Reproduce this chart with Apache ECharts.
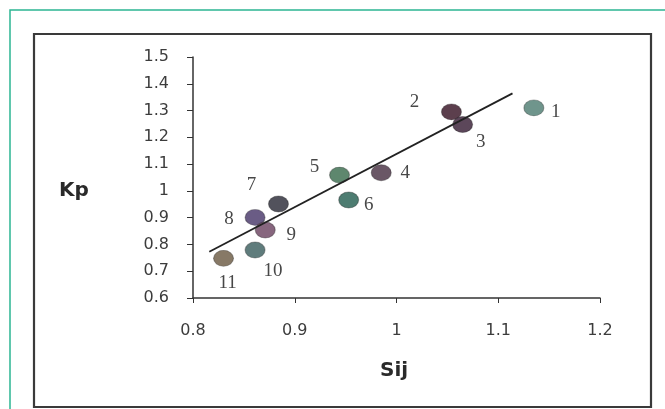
<!DOCTYPE html>
<html>
<head>
<meta charset="utf-8">
<script src="https://cdn.jsdelivr.net/npm/echarts@6/dist/echarts.min.js"></script>
<style>
html,body{margin:0;padding:0;background:#fff;}
#chart{width:665px;height:409px;}
</style>
</head>
<body>
<div id="chart"></div>
<script>
// Data
var pointNames = ['1','2','3','4','5','6','7','8','9','10','11'];
var sijValues = [1.135, 1.054, 1.065, 0.985, 0.944, 0.953, 0.884, 0.861, 0.871, 0.861, 0.830];
var kpValues  = [1.310, 1.295, 1.248, 1.068, 1.059, 0.966, 0.951, 0.901, 0.854, 0.779, 0.748];
var trendSij = [0.816, 1.114];
var trendKp  = [0.773, 1.364];
var xTicks = [0.8, 0.9, 1, 1.1, 1.2];
var yTicks = [0.6, 0.7, 0.8, 0.9, 1, 1.1, 1.2, 1.3, 1.4, 1.5];

// Styling (not data)
var pointColors = ['#5f8a80','#4a2a3a','#4a3348','#5a4555','#4d7a5e','#3a6e62','#3f3f4a','#5a4a78','#7a5570','#4e6e6e','#7a6a55'];
var labelOffsets = [[22,4],[-37,-10],[18,18],[24,0],[-25,-8],[20,5],[-27,-19],[-26,2],[26,5],[18,21],[4,25]];

var chart = echarts.init(document.getElementById('chart'));
var scatterData = sijValues.map(function(x, i){
  return {
    value: [x, kpValues[i]],
    name: pointNames[i],
    itemStyle: {color: pointColors[i]},
    label: {offset: labelOffsets[i]}
  };
});
var trendData = trendSij.map(function(x, i){ return [x, trendKp[i]]; });

var tickFont = {fontFamily: 'DejaVu Sans', fontSize: 16, color: '#3c3c3c'};

chart.setOption({
  animation: false,
  backgroundColor: '#ffffff',
  graphic: [
    {type:'rect', shape:{x:10, y:10, width:670, height:420}, style:{fill:'none', stroke:'#2db593', lineWidth:1.5}},
    {type:'rect', shape:{x:34, y:34, width:617, height:373}, style:{fill:'none', stroke:'#3a3a3a', lineWidth:2.2}},
    {type:'text', left: 59, top: 181, style:{text:'Kp', font:'bold 20px "DejaVu Sans"', fill:'#2a2a2a'}},
    {type:'text', left: 380, top: 361, style:{text:'Sij', font:'bold 20px "DejaVu Sans"', fill:'#2a2a2a'}}
  ],
  grid: {left: 193, right: 65, top: 57, bottom: 111},
  xAxis: {
    type: 'value', min: xTicks[0], max: xTicks[xTicks.length-1], interval: 0.1,
    axisLine: {show: true, lineStyle: {color: '#333', width: 1.5}},
    axisTick: {show: true, inside: false, length: 5, lineStyle: {color: '#333'}},
    splitLine: {show: false},
    axisLabel: Object.assign({margin: 25}, tickFont)
  },
  yAxis: {
    type: 'value', min: yTicks[0], max: yTicks[yTicks.length-1], interval: 0.1,
    axisLine: {show: true, lineStyle: {color: '#333', width: 1.5}},
    axisTick: {show: true, inside: false, length: 6, lineStyle: {color: '#333'}},
    splitLine: {show: false},
    axisLabel: Object.assign({margin: 24}, tickFont)
  },
  series: [
    {
      type: 'line', data: trendData, symbol: 'none',
      lineStyle: {color: '#222', width: 1.8}, z: 3
    },
    {
      type: 'scatter', data: scatterData, symbol: 'circle', symbolSize: [20, 16],
      itemStyle: {opacity: 0.9, borderColor: 'rgba(40,40,40,0.4)', borderWidth: 1},
      label: {
        show: true, position: 'inside', formatter: '{b}',
        fontFamily: 'Liberation Serif', fontSize: 19, color: '#333',
        align: 'center', verticalAlign: 'middle'
      },
      z: 2
    }
  ]
});
</script>
</body>
</html>
